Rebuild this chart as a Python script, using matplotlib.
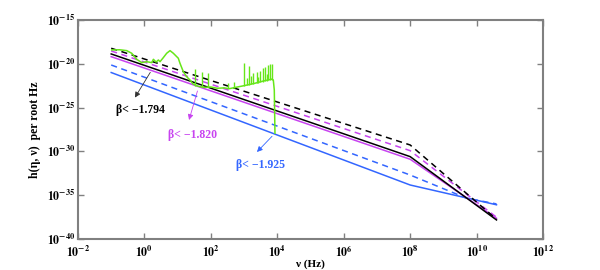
import numpy as np
import matplotlib
matplotlib.use("Agg")
import matplotlib.pyplot as plt
from matplotlib.ticker import FixedLocator, FuncFormatter

plt.rcParams["mathtext.fontset"] = "stix"
plt.rcParams["font.family"] = ["Liberation Serif", "DejaVu Serif"]

# corners of the model lines, log10(nu / Hz) vs log10(h)
black_solid_nu = [-1, 8, 10.6]
black_solid_h = [-18.88, -30.6, -37.83]
black_dash_nu = [-1, 8, 10.6]
black_dash_h = [-18.23, -29.27, -37.75]
mag_solid_nu = [-1, 8, 10.6]
mag_solid_h = [-19.19, -30.9, -37.64]
mag_dash_nu = [-1, 8, 10.6]
mag_dash_h = [-18.54, -29.92, -37.52]
blue_solid_nu = [-1, 8, 10.6]
blue_solid_h = [-21.0, -33.84, -36.1]
blue_dash_nu = [-1, 8, 9.7, 10.6]
blue_dash_h = [-20.14, -32.7, -35.35, -36.0]

# measured sensitivity curve (green)
green_nu = [-0.985, -0.75, -0.533, -0.383, -0.232, -0.081, 0.069, 0.22, 0.27,
            0.35, 0.42, 0.47, 0.56, 0.67, 0.77, 0.87, 1.02, 1.07, 1.17, 1.27,
            1.37, 1.46, 1.6, 1.8, 2.0, 2.2, 2.4, 2.55, 2.67, 3.0, 3.3, 3.6,
            3.84, 3.88, 3.91, 3.93]
green_h = [-18.42, -18.4, -18.50, -18.80, -19.49, -19.87, -19.76, -19.87, -19.49,
           -19.8, -19.57, -19.76, -19.34, -18.80, -18.50, -18.80, -19.37, -19.94,
           -20.90, -21.47, -21.85, -22.3, -22.55, -22.7, -22.65, -22.8, -22.75,
           -22.85, -22.75, -22.5, -22.25, -21.95, -21.75, -21.85, -23.0, -27.93]
# spikes on the green curve
spike_nu = [1.52, 1.73, 1.92, 2.53, 2.70, 3.01, 3.08, 3.16, 3.22, 3.28, 3.38,
            3.43, 3.48, 3.56, 3.63, 3.68, 3.73, 3.78, 3.83]
spike_base = [-22.55, -22.65, -22.7, -22.8, -22.75, -22.5, -22.45, -22.4, -22.35,
              -22.3, -22.2, -22.15, -22.1, -22.05, -22.0, -21.95, -21.9, -21.85,
              -21.8]
spike_top = [-20.63, -20.90, -21.05, -22.16, -22.04, -19.94, -21.6, -20.25, -21.4,
             -21.08, -20.90, -21.5, -20.79, -20.51, -20.33, -21.2, -20.14, -20.06,
             -20.02]

BLACK = "black"
MAG = "#c844f0"
BLUE = "#3366ff"
GREEN = "#66e619"

fig = plt.figure(figsize=(6, 2.7), dpi=100)
ax = fig.add_axes([0.13, 0.115, 0.775, 0.811])


def p(nu, h):
    return 10.0 ** np.array(nu), 10.0 ** np.array(h)


lw = 1.1
ax.plot(*p(blue_solid_nu, blue_solid_h), color=BLUE, lw=lw)
ax.plot(*p(blue_dash_nu, blue_dash_h), color=BLUE, lw=lw, ls=(0, (4, 3)))
ax.plot(*p(mag_solid_nu, mag_solid_h), color=MAG, lw=lw)
ax.plot(*p(mag_dash_nu, mag_dash_h), color=MAG, lw=lw, ls=(0, (4, 3)))
ax.plot(*p(black_solid_nu, black_solid_h), color=BLACK, lw=lw)
ax.plot(*p(black_dash_nu, black_dash_h), color=BLACK, lw=lw, ls=(0, (4, 3)))
ax.plot(*p(green_nu, green_h), color=GREEN, lw=1.1)
ax.vlines(10.0 ** np.array(spike_nu), 10.0 ** np.array(spike_base),
          10.0 ** np.array(spike_top), color=GREEN, lw=1.0)

ax.set_xscale("log")
ax.set_yscale("log")
ax.set_xlim(1e-2, 1e12)
ax.set_ylim(1e-40, 1e-15)
ax.xaxis.set_major_locator(FixedLocator([10.0 ** k for k in range(-2, 13, 2)]))
ax.yaxis.set_major_locator(FixedLocator([10.0 ** k for k in range(-40, -14, 5)]))
ax.xaxis.set_minor_locator(FixedLocator([]))
ax.yaxis.set_minor_locator(FixedLocator([]))
fmt = FuncFormatter(lambda v, pos: r"$\mathbf{10^{%d}}$" % round(np.log10(v)))
ax.xaxis.set_major_formatter(fmt)
ax.yaxis.set_major_formatter(fmt)
ax.tick_params(which="both", direction="in", top=True, right=True,
               color="#808080", length=4, width=1, labelsize=8.5)
ax.tick_params(axis="x", pad=4)
ax.tick_params(axis="y", pad=2)
for s in ax.spines.values():
    s.set_color("#808080")
    s.set_linewidth(1.5)

ax.set_xlabel("ν (Hz)", fontsize=8, fontweight="bold", labelpad=-1)
ax.set_ylabel("h(η, ν)  per root Hz", fontsize=8.5, fontweight="bold", labelpad=4)

tkw = dict(fontsize=8.5, fontweight="bold", ha="center", va="center")
ax.text(10 ** -0.13, 10 ** -25.27, "β< −1.794", color=BLACK, **tkw)
ax.annotate("", xy=(10 ** -0.33, 10 ** -24.13), xytext=(10 ** 0.22, 10 ** -20.71),
            arrowprops=dict(arrowstyle="-|>", color="#333333", lw=0.6,
                            mutation_scale=8))
ax.text(10 ** 1.46, 10 ** -28.13, "β< −1.820", color=MAG, **tkw)
ax.annotate("", xy=(10 ** 1.32, 10 ** -26.72), xytext=(10 ** 1.62, 10 ** -22.8),
            arrowprops=dict(arrowstyle="-|>", color=MAG, lw=0.6,
                            mutation_scale=8))
ax.text(10 ** 3.5, 10 ** -31.55, "β< −1.925", color=BLUE, **tkw)
ax.annotate("", xy=(10 ** 3.33, 10 ** -30.3), xytext=(10 ** 3.9, 10 ** -28.05),
            arrowprops=dict(arrowstyle="-|>", color=BLUE, lw=0.6,
                            mutation_scale=8))

fig.savefig("out.png", dpi=100)
